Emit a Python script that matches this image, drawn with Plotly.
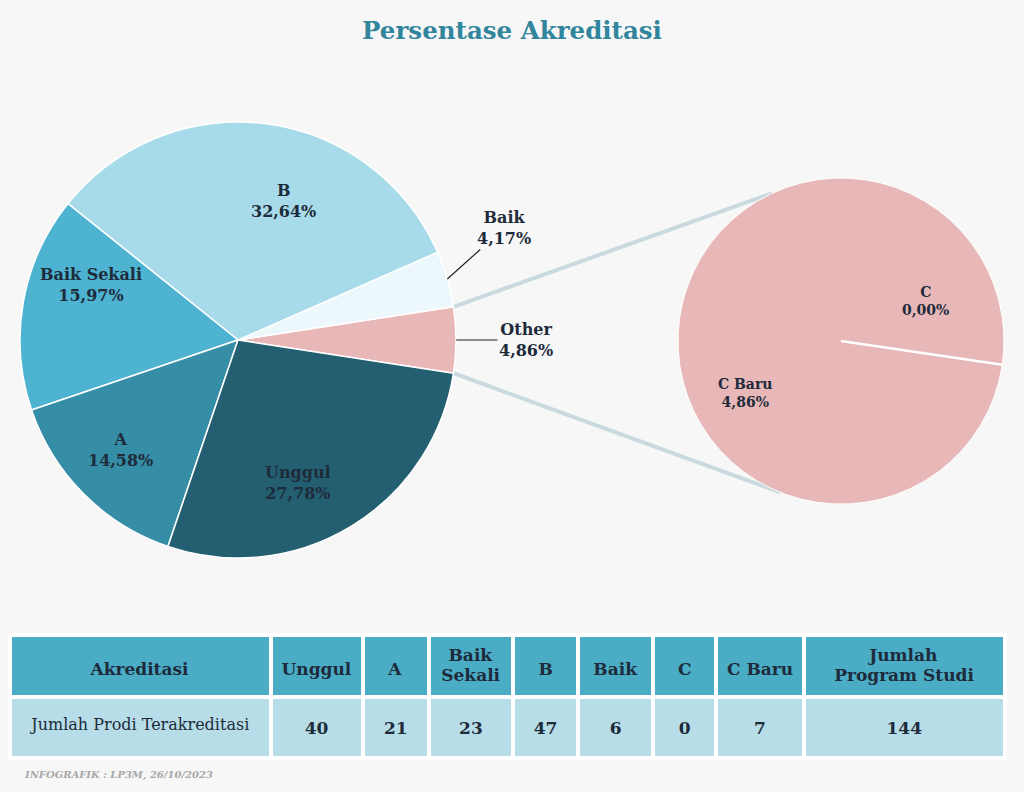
import math
import plotly.graph_objects as go

# ---------------- data ----------------
categories = ["Unggul", "A", "Baik Sekali", "B", "Baik", "C", "C Baru"]
counts = [40, 21, 23, 47, 6, 0, 7]
header_labels = ["Akreditasi", "Unggul", "A", "Baik<br>Sekali", "B", "Baik", "C", "C Baru",
                 "Jumlah<br>Program Studi"]
row_label = "Jumlah Prodi Terakreditasi"
other_members = ["C", "C Baru"]
main_order = ["Other", "Baik", "B", "Baik Sekali", "A", "Unggul"]
sub_order = ["C", "C Baru"]
title_text = "Persentase Akreditasi"
footer_text = "INFOGRAFIK : LP3M, 26/10/2023"

# ---------------- styling / layout constants ----------------
W, H = 1024, 792
BG = "#F7F7F7"
TXT = "#1D2B3A"
FONT = "DejaVu Serif"
colors = {"Other": "#E8B7B7", "Baik": "#ECF8FC", "B": "#A8DBEA", "Baik Sekali": "#4DB3D1",
          "A": "#368EA6", "Unggul": "#245F71", "C": "#E8B7B7", "C Baru": "#E8B7B7"}
MAIN_C, MAIN_R = (238, 340), 218
SUB_C, SUB_R = (841, 341), 163
SUB_SPLIT_DEG = 8.4          # where the zero slice sits (below 3 o'clock)
label_pos = {"B": (283, 201), "Baik Sekali": (91, 285), "A": (120, 450), "Unggul": (298, 483),
             "C Baru": (745, 393), "C": (925, 301)}
outside_offset = {"Baik": (57, -51), "Other": (70, 0)}

total = sum(counts)
cnt = dict(zip(categories, counts))
cnt["Other"] = sum(cnt[m] for m in other_members)


def pct(v):
    return ("%.2f" % (v / total * 100)).replace(".", ",") + "%"


def px(x, y):
    return x / W, 1 - y / H


def domain(c, r):
    x0, y0 = px(c[0] - r, c[1] + r)
    x1, y1 = px(c[0] + r, c[1] - r)
    return dict(x=[x0, x1], y=[y0, y1])


main_vals = [cnt[k] for k in main_order]
sub_vals = [cnt[k] for k in sub_order]
other_deg = cnt["Other"] / total * 360.0

fig = go.Figure()

fig.add_trace(go.Pie(
    labels=main_order, values=main_vals, sort=False, direction="counterclockwise",
    rotation=90 - other_deg / 2, domain=domain(MAIN_C, MAIN_R),
    marker=dict(colors=[colors[k] for k in main_order], line=dict(color="white", width=1.5)),
    textinfo="none", hoverinfo="label+value", showlegend=False))

fig.add_trace(go.Pie(
    labels=sub_order, values=sub_vals, sort=False, direction="counterclockwise",
    rotation=90 + SUB_SPLIT_DEG, domain=domain(SUB_C, SUB_R),
    marker=dict(colors=[colors[k] for k in sub_order], line=dict(color="white", width=1)),
    textinfo="none", hoverinfo="label+value", showlegend=False))

annotations = []
for k, (x, y) in label_pos.items():
    xp, yp = px(x, y)
    annotations.append(dict(x=xp, y=yp, xref="paper", yref="paper", showarrow=False,
                            xanchor="center", yanchor="middle",
                            text="<b>%s<br>%s</b>" % (k, pct(cnt[k])),
                            font=dict(family=FONT, size=16 if k not in sub_order else 14, color=TXT)))

# outside labels with leader lines
cum = 0.0
mid = {}
for k in main_order:
    a = cnt[k] / total * 360.0
    mid[k] = -other_deg / 2 + cum + a / 2
    cum += a
for k, (ax, ay) in outside_offset.items():
    th = math.radians(mid[k])
    x = MAIN_C[0] + MAIN_R * math.cos(th)
    y = MAIN_C[1] - MAIN_R * math.sin(th)
    xp, yp = px(x, y)
    annotations.append(dict(x=xp, y=yp, xref="paper", yref="paper", showarrow=True,
                            xanchor="center", yanchor="middle",
                            arrowhead=0, arrowwidth=1.2, arrowcolor="#222", ax=ax, ay=ay,
                            text="<b>%s<br>%s</b>" % (k, pct(cnt[k])),
                            font=dict(family=FONT, size=16, color=TXT)))

annotations.append(dict(x=22 / W, y=1 - 775 / H, xref="paper", yref="paper", xanchor="left",
                        yanchor="middle", showarrow=False, text="<b><i>%s</i></b>" % footer_text,
                        font=dict(family=FONT, size=10, color="#A8A8A8")))

# connector lines between the pies
shapes = []
for sgn, end_deg in [(1, 115), (-1, -112)]:
    th = math.radians(sgn * other_deg / 2)
    x0 = MAIN_C[0] + MAIN_R * math.cos(th)
    y0 = MAIN_C[1] - MAIN_R * math.sin(th)
    te = math.radians(end_deg)
    x1 = SUB_C[0] + SUB_R * math.cos(te)
    y1 = SUB_C[1] - SUB_R * math.sin(te)
    a0 = px(x0, y0)
    a1 = px(x1, y1)
    shapes.append(dict(type="line", xref="paper", yref="paper", x0=a0[0], y0=a0[1],
                       x1=a1[0], y1=a1[1], line=dict(color="#C8DADD", width=4), layer="below"))

# boundary of the zero-size "C" slice in the secondary pie
te = math.radians(-SUB_SPLIT_DEG)
c0 = px(*SUB_C)
c1 = px(SUB_C[0] + SUB_R * math.cos(te), SUB_C[1] - SUB_R * math.sin(te))
shapes.append(dict(type="line", xref="paper", yref="paper", x0=c0[0], y0=c0[1], x1=c1[0],
                   y1=c1[1], line=dict(color="white", width=2.5), layer="above"))

# ---------------- table ----------------
col_widths = [260, 92, 66, 84, 65, 75, 63, 87, 201]
tx = [10 / W, 1005 / W]
ncol = len(header_labels)
row_vals = [row_label] + counts + [total]
clear = "rgba(0,0,0,0)"
hfont = dict(family=FONT, size=17, color=TXT)

# fills
fig.add_trace(go.Table(
    domain=dict(x=tx, y=[0, 1 - 635 / H]), columnwidth=col_widths,
    header=dict(values=[""] * ncol, fill_color="#4BACC6", line=dict(color="white", width=4),
                height=62),
    cells=dict(values=[[""]] * ncol, fill_color="#B7DDE8", line=dict(color="white", width=4),
               height=61)))

single = ["<b>%s</b>" % h if "<br>" not in h else "" for h in header_labels]
first_line = ["<b>%s</b>" % h.split("<br>")[0] if "<br>" in h else "" for h in header_labels]
second_line = ["<b>%s</b>" % h.split("<br>")[1] if "<br>" in h else "" for h in header_labels]
cell_txt = [[str(row_vals[0])]] + [["<b>%s</b>" % v] for v in row_vals[1:]]

fig.add_trace(go.Table(
    domain=dict(x=tx, y=[0, 1 - 651 / H]), columnwidth=col_widths,
    header=dict(values=single, fill_color=clear, line=dict(color=clear, width=0), height=59,
                align="center", font=hfont),
    cells=dict(values=cell_txt, fill_color=clear, line=dict(color=clear, width=0), height=58,
               align="center", font=dict(family=FONT, size=[16] + [17] * (ncol - 1), color=TXT))))

for top, vals in [(637, first_line), (657, second_line)]:
    fig.add_trace(go.Table(
        domain=dict(x=tx, y=[0, 1 - top / H]), columnwidth=col_widths,
        header=dict(values=vals, fill_color=clear, line=dict(color=clear, width=0), height=40,
                    align="center", font=hfont),
        cells=dict(values=[[""]] * ncol, fill_color=clear, line=dict(color=clear, width=0),
                   height=20)))

fig.update_layout(
    width=W, height=H, margin=dict(l=0, r=0, t=0, b=0),
    paper_bgcolor=BG, plot_bgcolor=BG,
    title=dict(text="<b>%s</b>" % title_text, x=0.5, xanchor="center", y=1 - 30 / H,
               yanchor="middle", font=dict(family=FONT, size=24.5, color="#31859C")),
    annotations=annotations, shapes=shapes)

fig.write_html("out.html", config={"displayModeBar": False},
               post_script="document.body.style.margin='0';")
